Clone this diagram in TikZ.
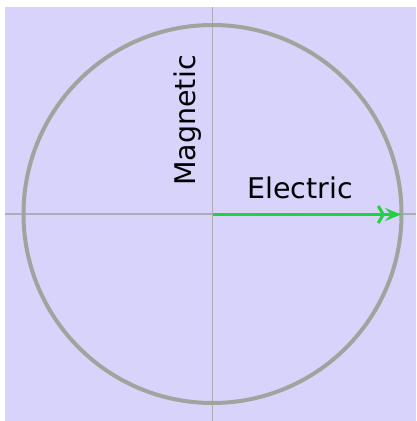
\documentclass[tikz,border=0pt]{standalone}
\usepackage{fontspec}
\setmainfont{DejaVu Sans}
\usetikzlibrary{arrows.meta}
\definecolor{bgc}{HTML}{D7D3FB}
\definecolor{ringc}{HTML}{A0A49C}
\definecolor{axisc}{HTML}{ACACB4}
\definecolor{greenc}{HTML}{1FD23E}
\tikzset{
  axisline/.style={draw=axisc, line width=1.4pt},
  ring/.style={draw=ringc, line width=4pt},
  vec/.style={draw=greenc, line width=3.6pt, -{Straight Barb[length=5pt,width=17pt,line width=3pt]Stealth[length=16pt,width=13pt,inset=6pt]}},
  lbl/.style={font=\fontsize{28.5}{30}\selectfont, text=black, inner sep=0pt}
}
\begin{document}
\begin{tikzpicture}[x=1pt,y=-1pt]
\useasboundingbox (0,0) rectangle (416,421);
\fill[bgc] (5,7) rectangle (416,421);
\coordinate (O) at (212.5,214);
\coordinate (L) at (5,214);
\coordinate (R) at (416,214);
\coordinate (T) at (212.5,7);
\coordinate (B) at (212.5,421);
\coordinate (E) at (401,214.5);
\draw[axisline] (L) -- (R);
\draw[axisline] (T) -- (B);
\draw[ring] (O) circle[radius=189];
\draw[vec] (O) ++(0,0.5) coordinate (O2) -- (E);
\node[lbl, anchor=base west] (el) at (247,198) {Electric};
\node[lbl, rotate=90, anchor=base west] (mag) at (195,186) {Magnetic};
\end{tikzpicture}
\end{document}
